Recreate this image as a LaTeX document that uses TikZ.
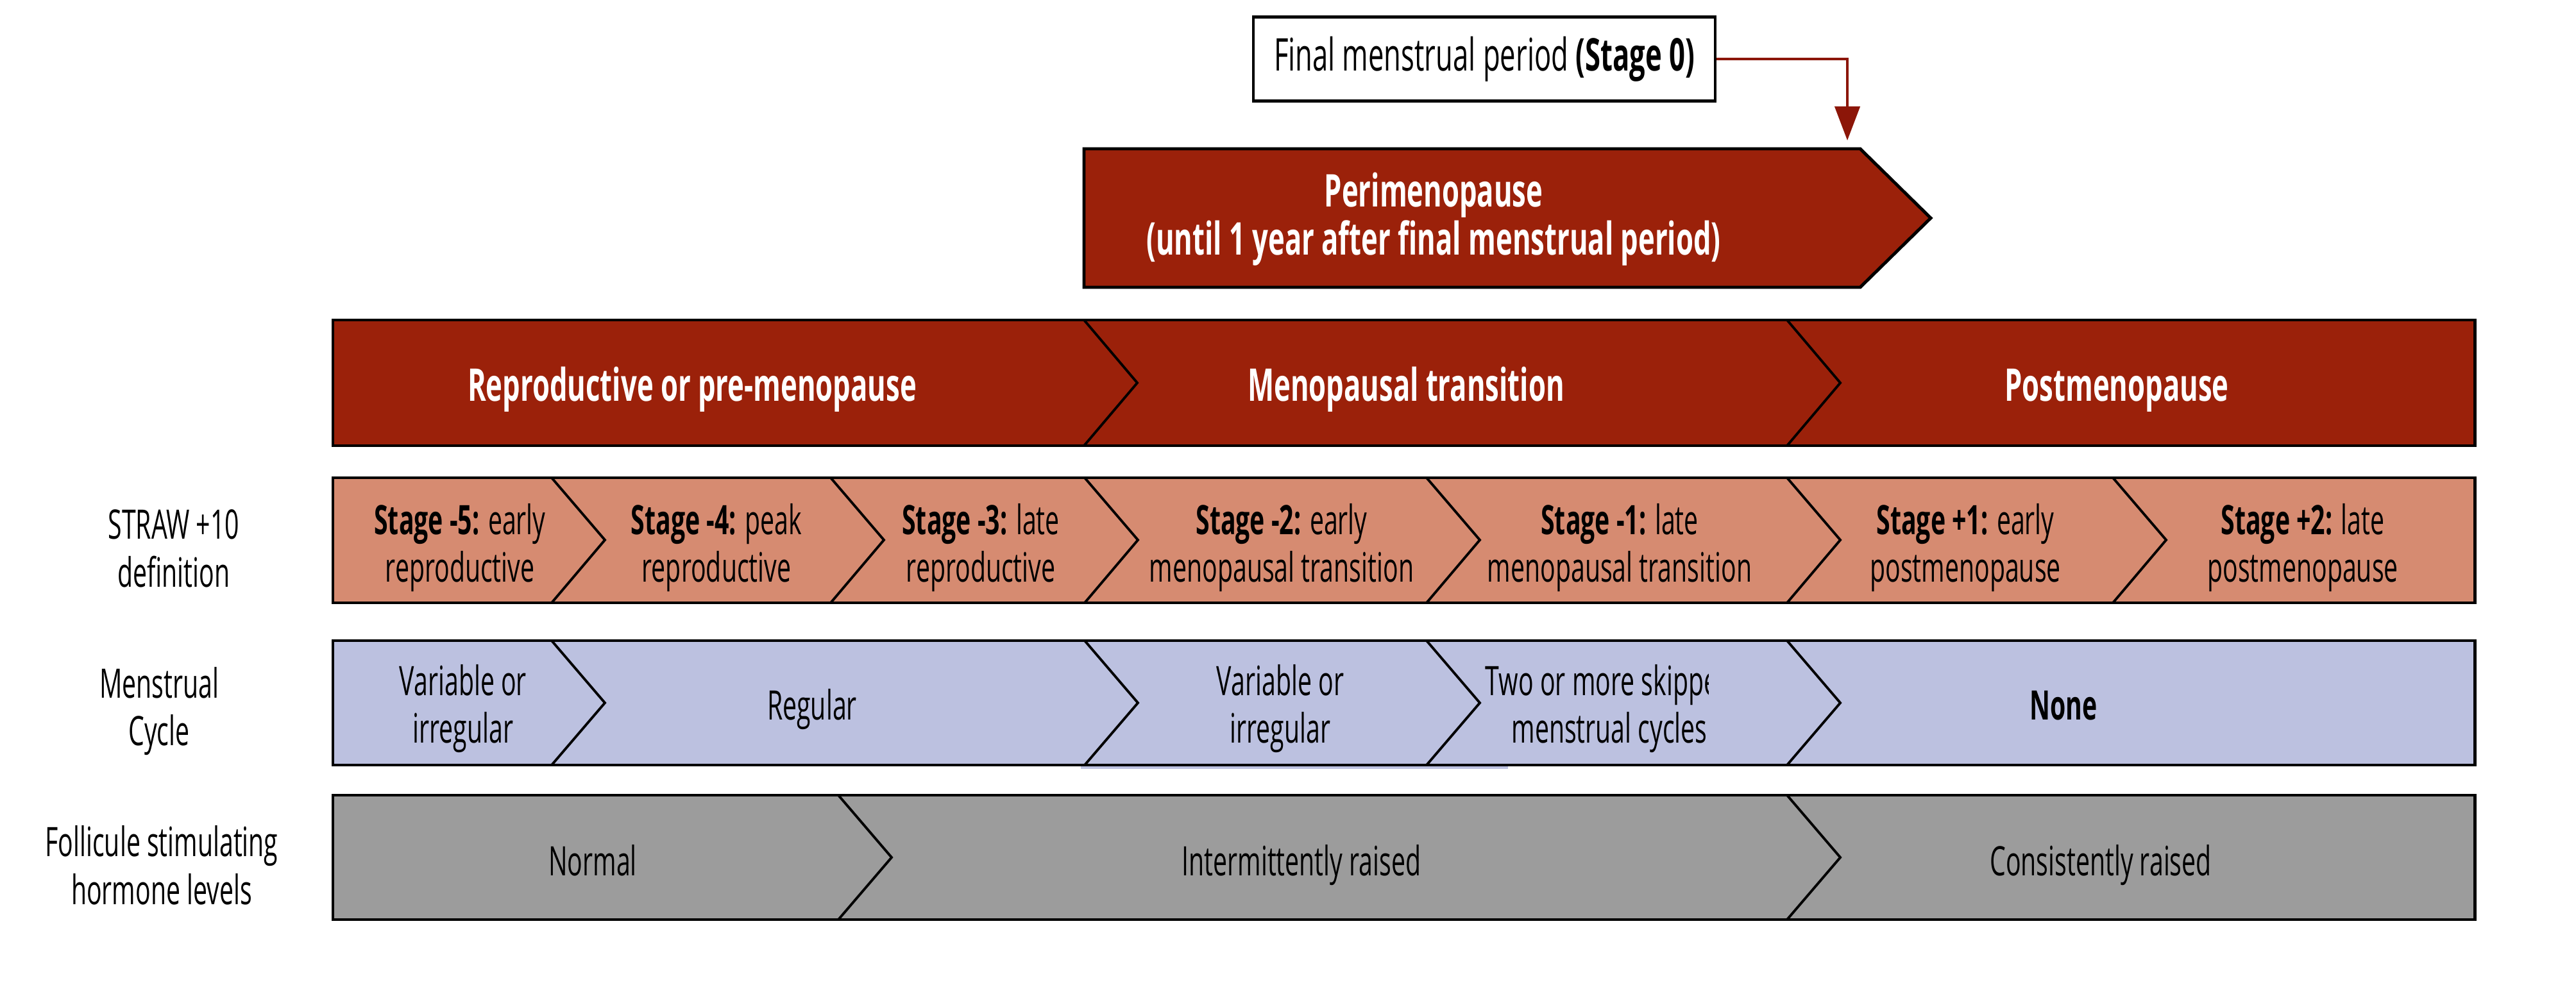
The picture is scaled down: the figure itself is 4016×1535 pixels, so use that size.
\documentclass[tikz,border=0pt]{standalone}
\usepackage{fontspec}
\setmainfont{Open Sans}[FakeStretch=0.62]
\usetikzlibrary{arrows.meta}

\definecolor{phasered}{HTML}{9B210A}
\definecolor{stagesalmon}{HTML}{D68B71}
\definecolor{cyclelav}{HTML}{BCC1E0}
\definecolor{fshgrey}{HTML}{9C9C9C}
\definecolor{arrowred}{HTML}{8C1608}

\begin{document}
\begin{tikzpicture}[x=0.01cm,y=-0.01cm,
  every node/.style={font=\fontsize{18}{21.3}\selectfont, inner sep=0pt},
  band/.style={line width=1.4pt},
  divider/.style={line width=1.1pt},
  lbl/.style={align=center},
  headlbl/.style={text=white, font=\fontsize{20}{21.3}\selectfont\bfseries}]

\useasboundingbox (0,0) rectangle (4016,1535);

% stage 0 and perimenopause
\node[draw, line width=1.2pt, minimum width=7.2cm, minimum height=1.31cm, font=\fontsize{20}{24}\selectfont] (final) at (2314,92) {Final menstrual period \textbf{(Stage 0)}};
\filldraw[fill=phasered, draw=black, band] (1690,232) -- (2900,232) -- (3010,340) -- (2900,448) -- (1690,448) -- cycle;
\node[headlbl, lbl] (peri) at (2235,342) {Perimenopause\\(until 1 year after final menstrual period)};
\coordinate (peritip) at (2880,219);
\draw[arrowred, line width=1.2pt, -{Triangle[width=0.39cm,length=0.53cm]}] (final.east) -| (peritip);

% phases
\fill[phasered] (519,499) rectangle (3858,695);
\foreach \x in {1690,2786}
  \draw[divider] (\x,499) -- (\x+83,597) -- (\x,695);
\draw[band] (519,499) rectangle (3858,695);
\node[headlbl, anchor=base] (reprod) at (1079,625) {Reproductive or pre-menopause};
\node[headlbl, anchor=base] (mtrans) at (2192,625) {Menopausal transition};
\node[headlbl, anchor=base] (postm) at (3300,625) {Postmenopause};

% STRAW stages
\node[lbl] (strawlbl) at (271,855) {STRAW +10\\definition};
\fill[stagesalmon] (519,745) rectangle (3858,940);
\foreach \x in {860,1295,1691,2224,2786,3294}
  \draw[divider] (\x,745) -- (\x+83,842) -- (\x,940);
\draw[band] (519,745) rectangle (3858,940);
\node[lbl] (sfive) at (717,854) {\textbf{Stage -5:} early\\reproductive};
\node[lbl] (sfour) at (1117,854) {\textbf{Stage -4:} peak\\reproductive};
\node[lbl] (sthree) at (1529,854) {\textbf{Stage -3:} late\\reproductive};
\node[lbl] (stwo) at (1998,854) {\textbf{Stage -2:} early\\menopausal transition};
\node[lbl] (sone) at (2525,854) {\textbf{Stage -1:} late\\menopausal transition};
\node[lbl] (splusone) at (3064,854) {\textbf{Stage +1:} early\\postmenopause};
\node[lbl] (splustwo) at (3590,854) {\textbf{Stage +2:} late\\postmenopause};

% menstrual cycle
\node[lbl] (cyclelbl) at (248,1109) {Menstrual\\Cycle};
\fill[cyclelav] (1685,1190) rectangle (2351,1199);
\fill[cyclelav] (519,999) rectangle (3858,1193);
\foreach \x in {860,1691,2224,2786}
  \draw[divider] (\x,999) -- (\x+83,1096) -- (\x,1193);
\draw[band] (519,999) rectangle (3858,1193);
\node[lbl] (cvarone) at (722,1105) {Variable or\\irregular};
\node[anchor=base] (cregular) at (1266,1122) {Regular};
\node[lbl] (cvartwo) at (1996,1105) {Variable or\\irregular};
\begin{scope}
\clip (2224,1000) rectangle (2663,1190);
\node[lbl] (cskip) at (2509,1105) {Two or more skipped\\menstrual cycles};
\end{scope}
\node[anchor=base] (cnone) at (3217,1122) {\textbf{None}};

% FSH
\node[lbl] (fshlbl) at (252,1349) {Follicule stimulating\\hormone levels};
\fill[fshgrey] (519,1240) rectangle (3858,1434);
\foreach \x in {1307,2786}
  \draw[divider] (\x,1240) -- (\x+83,1337) -- (\x,1434);
\draw[band] (519,1240) rectangle (3858,1434);
\node[anchor=base] (fnormal) at (924,1365) {Normal};
\node[anchor=base] (finter) at (2029,1365) {Intermittently raised};
\node[anchor=base] (fconst) at (3275,1365) {Consistently raised};

\end{tikzpicture}
\end{document}
